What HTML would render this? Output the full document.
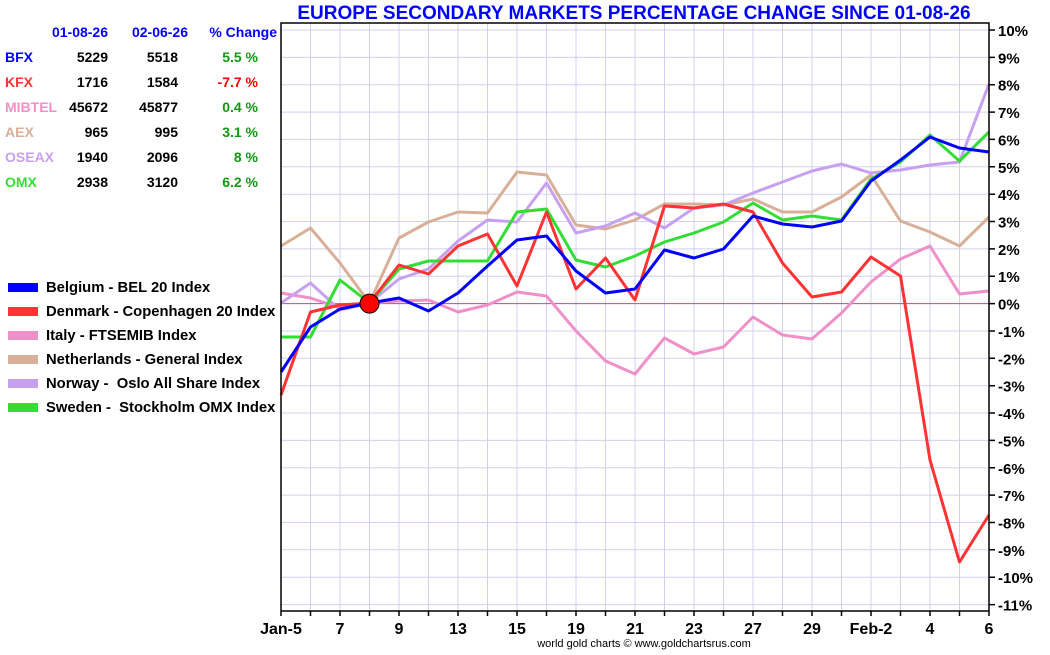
<!DOCTYPE html>
<html><head><meta charset="utf-8"><style>
body{margin:0;background:#fff;}
svg text{font-family:"Liberation Sans",Arial,sans-serif;font-weight:bold;}
</style></head><body>
<svg width="1050" height="650" xmlns="http://www.w3.org/2000/svg">
<rect width="1050" height="650" fill="#fff"/>
<path stroke="#d0d0f0" stroke-width="1" fill="none" d="M310.5 23V611M340 23V611M369.5 23V611M399 23V611M428.5 23V611M458 23V611M487.5 23V611M517 23V611M546.5 23V611M576 23V611M605.5 23V611M635 23V611M664.5 23V611M694 23V611M723.5 23V611M753 23V611M782.5 23V611M812 23V611M841.5 23V611M871 23V611M900.5 23V611M930 23V611M959.5 23V611
M281 30H989M281 57.4H989M281 84.7H989M281 112.1H989M281 139.4H989M281 166.8H989M281 194.2H989M281 221.5H989M281 248.9H989M281 276.2H989M281 331H989M281 358.3H989M281 385.7H989M281 413H989M281 440.4H989M281 467.8H989M281 495.1H989M281 522.5H989M281 549.8H989M281 577.2H989M281 604.6H989"/>
<line x1="281" y1="303.6" x2="989" y2="303.6" stroke="#c040c0" stroke-width="1"/>
<g fill="none" stroke-width="3" stroke-linejoin="round">
<polyline stroke="#d8b098" points="281,246 310.5,228 340,263 369.5,303 399,238 428.5,222 458,212 487.5,213 517,172 546.5,175 576,225 605.5,229 635,220 664.5,204 694,204 723.5,205 753,199 782.5,212 812,212 841.5,197 871,175 900.5,221 930,232 959.5,246 989,217"/>
<polyline stroke="#f090c8" points="281,293 310.5,298 340,308 369.5,303 399,301 428.5,300 458,312 487.5,305 517,292 546.5,296 576,331 605.5,361 635,374 664.5,338 694,354 723.5,347 753,317 782.5,335 812,339 841.5,313 871,282 900.5,259 930,246 959.5,294 989,291"/>
<polyline stroke="#c8a0f0" points="281,303 310.5,283 340,310 369.5,303 399,279 428.5,269 458,241 487.5,220 517,222 546.5,183 576,233 605.5,226 635,213 664.5,228 694,208 723.5,205 753,193 782.5,182 812,171 841.5,164 871,173 900.5,170 930,165 959.5,162 989,84"/>
<polyline stroke="#33dd33" points="281,337 310.5,337 340,280 369.5,303 399,269 428.5,261 458,261 487.5,261 517,212 546.5,209 576,260 605.5,267 635,256 664.5,242 694,233 723.5,222 753,203 782.5,220 812,216 841.5,220 871,179 900.5,162 930,135 959.5,161 989,132"/>
<polyline stroke="#ff3333" points="281,395 310.5,312 340,305 369.5,303 399,265 428.5,274 458,246 487.5,234 517,286 546.5,212 576,289 605.5,258 635,300 664.5,206 694,208 723.5,204 753,212 782.5,263 812,297 841.5,292 871,257 900.5,276 930,460 959.5,562 989,515"/>
<polyline stroke="#0000ff" points="281,372 310.5,327 340,309 369.5,303 399,298 428.5,311 458,293 487.5,266 517,240 546.5,236 576,271 605.5,293 635,289 664.5,250 694,258 723.5,249 753,216 782.5,224 812,227 841.5,221 871,181 900.5,160 930,137 959.5,148 989,152"/>
</g>
<circle cx="369.5" cy="303.6" r="9.5" fill="#ff0000" stroke="#000" stroke-width="1"/>
<path stroke="#000" stroke-width="1.5" fill="none" d="M281 23H989V611H281Z
M989 30h6M989 57.4h6M989 84.7h6M989 112.1h6M989 139.4h6M989 166.8h6M989 194.2h6M989 221.5h6M989 248.9h6M989 276.2h6M989 303.6h6M989 331h6M989 358.3h6M989 385.7h6M989 413h6M989 440.4h6M989 467.8h6M989 495.1h6M989 522.5h6M989 549.8h6M989 577.2h6M989 604.6h6
M281 611v5M310.5 611v5M340 611v5M369.5 611v5M399 611v5M428.5 611v5M458 611v5M487.5 611v5M517 611v5M546.5 611v5M576 611v5M605.5 611v5M635 611v5M664.5 611v5M694 611v5M723.5 611v5M753 611v5M782.5 611v5M812 611v5M841.5 611v5M871 611v5M900.5 611v5M930 611v5M959.5 611v5M989 611v5"/>
<g font-size="15">
<text x="998" y="36">10%</text><text x="998" y="63.4">9%</text><text x="998" y="90.7">8%</text><text x="998" y="118.1">7%</text><text x="998" y="145.4">6%</text><text x="998" y="172.8">5%</text><text x="998" y="200.2">4%</text><text x="998" y="227.5">3%</text><text x="998" y="254.9">2%</text><text x="998" y="282.2">1%</text><text x="998" y="309.6">0%</text><text x="998" y="337">-1%</text><text x="998" y="364.3">-2%</text><text x="998" y="391.7">-3%</text><text x="998" y="419">-4%</text><text x="998" y="446.4">-5%</text><text x="998" y="473.8">-6%</text><text x="998" y="501.1">-7%</text><text x="998" y="528.5">-8%</text><text x="998" y="555.8">-9%</text><text x="998" y="583.2">-10%</text><text x="998" y="610.6">-11%</text>
</g>
<g font-size="16" text-anchor="middle">
<text x="281" y="634">Jan-5</text><text x="340" y="634">7</text><text x="399" y="634">9</text><text x="458" y="634">13</text><text x="517" y="634">15</text><text x="576" y="634">19</text><text x="635" y="634">21</text><text x="694" y="634">23</text><text x="753" y="634">27</text><text x="812" y="634">29</text><text x="871" y="634">Feb-2</text><text x="930" y="634">4</text><text x="989" y="634">6</text>
</g>
<text x="634" y="19" font-size="19" fill="#0000ff" text-anchor="middle">EUROPE SECONDARY MARKETS PERCENTAGE CHANGE SINCE 01-08-26</text>
<g font-size="14" text-anchor="end">
<text x="108" y="37" fill="#0000ff">01-08-26</text><text x="188" y="37" fill="#0000ff">02-06-26</text><text x="277" y="37" fill="#0000ff">% Change</text>
<text x="5" y="62" fill="#0000ff" text-anchor="start">BFX</text><text x="108" y="62">5229</text><text x="178" y="62">5518</text><text x="258" y="62" fill="#119911">5.5 %</text>
<text x="5" y="87" fill="#ff3333" text-anchor="start">KFX</text><text x="108" y="87">1716</text><text x="178" y="87">1584</text><text x="258" y="87" fill="#ff0000">-7.7 %</text>
<text x="5" y="112" fill="#f090c8" text-anchor="start">MIBTEL</text><text x="108" y="112">45672</text><text x="178" y="112">45877</text><text x="258" y="112" fill="#119911">0.4 %</text>
<text x="5" y="137" fill="#d8b098" text-anchor="start">AEX</text><text x="108" y="137">965</text><text x="178" y="137">995</text><text x="258" y="137" fill="#119911">3.1 %</text>
<text x="5" y="162" fill="#c8a0f0" text-anchor="start">OSEAX</text><text x="108" y="162">1940</text><text x="178" y="162">2096</text><text x="258" y="162" fill="#119911">8 %</text>
<text x="5" y="187" fill="#33dd33" text-anchor="start">OMX</text><text x="108" y="187">2938</text><text x="178" y="187">3120</text><text x="258" y="187" fill="#119911">6.2 %</text>
</g>
<g font-size="14.8">
<rect x="8" y="283" width="30" height="9" fill="#0000ff"/><text x="46" y="292">Belgium - BEL 20 Index</text>
<rect x="8" y="307" width="30" height="9" fill="#ff3333"/><text x="46" y="316">Denmark - Copenhagen 20 Index</text>
<rect x="8" y="331" width="30" height="9" fill="#f090c8"/><text x="46" y="340">Italy - FTSEMIB Index</text>
<rect x="8" y="355" width="30" height="9" fill="#d8b098"/><text x="46" y="364">Netherlands - General Index</text>
<rect x="8" y="379" width="30" height="9" fill="#c8a0f0"/><text x="46" y="388" xml:space="preserve">Norway -  Oslo All Share Index</text>
<rect x="8" y="403" width="30" height="9" fill="#33dd33"/><text x="46" y="412" xml:space="preserve">Sweden -  Stockholm OMX Index</text>
</g>
<text x="644" y="647" font-size="11" text-anchor="middle" style="font-weight:normal">world gold charts © www.goldchartsrus.com</text>
</svg>
</body></html>
